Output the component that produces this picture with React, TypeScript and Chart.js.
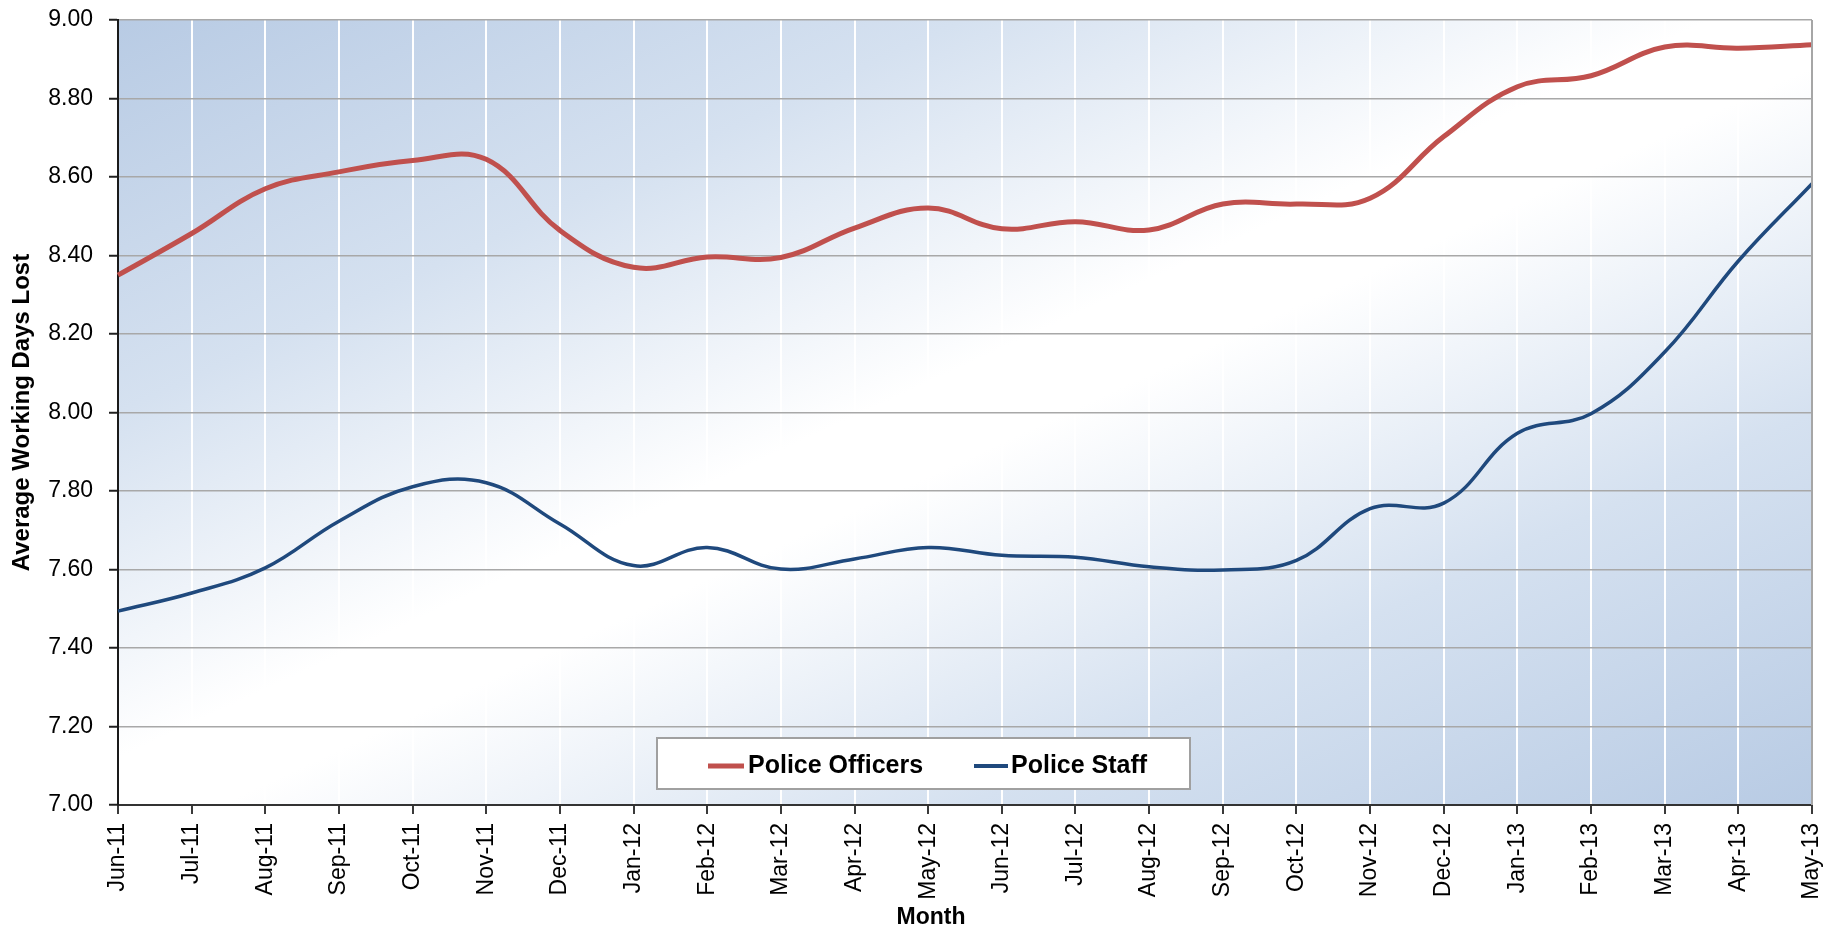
import React, { useEffect, useRef } from 'react';
import { Chart, registerables } from 'chart.js';

Chart.register(...registerables);

const months = [
  'Jun-11', 'Jul-11', 'Aug-11', 'Sep-11', 'Oct-11', 'Nov-11', 'Dec-11',
  'Jan-12', 'Feb-12', 'Mar-12', 'Apr-12', 'May-12', 'Jun-12', 'Jul-12',
  'Aug-12', 'Sep-12', 'Oct-12', 'Nov-12', 'Dec-12', 'Jan-13', 'Feb-13',
  'Mar-13', 'Apr-13', 'May-13',
];

const policeOfficers = [
  8.35, 8.456, 8.57, 8.613, 8.642, 8.645, 8.464, 8.37, 8.396, 8.395, 8.47, 8.521,
  8.468, 8.486, 8.465, 8.531, 8.531, 8.546, 8.703, 8.83, 8.858, 8.931, 8.928, 8.937,
];

const policeStaff = [
  7.494, 7.54, 7.604, 7.723, 7.811, 7.821, 7.716, 7.61, 7.656, 7.601, 7.627, 7.656,
  7.636, 7.631, 7.607, 7.599, 7.623, 7.755, 7.769, 7.947, 7.997, 8.154, 8.386, 8.583,
];

const yMin = 7.0;
const yMax = 9.0;
const yStep = 0.2;

const seriesLabels = ['Police Officers', 'Police Staff'];
const xTitle = 'Month';
const yTitle = 'Average Working Days Lost';

const FONT = "'Liberation Sans', Arial, sans-serif";
const RED = '#c0504d';
const BLUE = '#1f497d';

export default function App() {
  const ref = useRef<HTMLCanvasElement | null>(null);

  useEffect(() => {
    if (!ref.current) return;

    const bgPlugin = {
      id: 'bgGradient',
      beforeDraw(chart: any) {
        const { ctx, chartArea: a } = chart;
        const W = a.right - a.left;
        const H = a.bottom - a.top;
        const cx = (a.left + a.right) / 2;
        const cy = (a.top + a.bottom) / 2;
        const len = Math.hypot(W, H);
        const ux = H / len;
        const uy = W / len;
        const d = (W * H) / len;
        const g = ctx.createLinearGradient(cx - ux * d, cy - uy * d, cx + ux * d, cy + uy * d);
        g.addColorStop(0, '#b8cbe4');
        g.addColorStop(0.25, '#d5e1f0');
        g.addColorStop(0.47, '#ffffff');
        g.addColorStop(0.53, '#ffffff');
        g.addColorStop(0.75, '#d5e1f0');
        g.addColorStop(1, '#b8cbe4');
        ctx.save();
        ctx.fillStyle = g;
        ctx.fillRect(a.left, a.top, W, H);
        ctx.restore();
      },
      afterDraw(chart: any) {
        const { ctx, chartArea: a } = chart;
        ctx.save();
        // right border
        ctx.strokeStyle = '#a6a6a6';
        ctx.lineWidth = 2;
        ctx.beginPath();
        ctx.moveTo(a.right, a.top);
        ctx.lineTo(a.right, a.bottom);
        ctx.stroke();

        // legend box
        const bx = 657, by = 738, bw = 533, bh = 51;
        ctx.fillStyle = '#ffffff';
        ctx.fillRect(bx, by, bw, bh);
        ctx.strokeStyle = '#a0a0a0';
        ctx.lineWidth = 2;
        ctx.strokeRect(bx, by, bw, bh);
        const ly = 766;
        const items = [
          { x0: 708, x1: 744, tx: 748, color: RED, w: 5, text: chart.data.datasets[0].label },
          { x0: 974, x1: 1008, tx: 1011, color: BLUE, w: 4, text: chart.data.datasets[1].label },
        ];
        ctx.font = `bold 25px ${FONT}`;
        ctx.textBaseline = 'middle';
        ctx.textAlign = 'left';
        for (const it of items) {
          ctx.strokeStyle = it.color;
          ctx.lineWidth = it.w;
          ctx.beginPath();
          ctx.moveTo(it.x0, ly);
          ctx.lineTo(it.x1, ly);
          ctx.stroke();
          ctx.fillStyle = '#000000';
          ctx.fillText(it.text, it.tx, ly);
        }

        // x axis title
        ctx.font = `bold 23px ${FONT}`;
        ctx.textAlign = 'center';
        ctx.textBaseline = 'middle';
        ctx.fillStyle = '#000000';
        ctx.fillText(xTitle, 931, 918);
        ctx.restore();
      },
    };

    const chart = new Chart(ref.current, {
      type: 'line',
      data: {
        labels: months,
        datasets: [
          {
            label: seriesLabels[0],
            data: policeOfficers,
            borderColor: RED,
            backgroundColor: RED,
            borderWidth: 5,
            pointRadius: 0,
            tension: 0.4,
            fill: false,
          },
          {
            label: seriesLabels[1],
            data: policeStaff,
            borderColor: BLUE,
            backgroundColor: BLUE,
            borderWidth: 3.5,
            pointRadius: 0,
            tension: 0.4,
            fill: false,
          },
        ],
      },
      options: {
        responsive: false,
        animation: false,
        devicePixelRatio: 1,
        layout: { padding: { top: 20, right: 19, left: 0, bottom: 0 } },
        plugins: {
          legend: { display: false },
          tooltip: { enabled: false },
        },
        scales: {
          x: {
            type: 'category',
            offset: false,
            afterFit(scale: any) {
              scale.height = 127;
              scale.paddingLeft = 0;
              scale.paddingRight = 0;
            },
            grid: {
              color: '#ffffff',
              lineWidth: 2,
              tickColor: '#3a3a3a',
              tickWidth: 2,
              tickLength: 9,
            },
            border: { color: '#333333', width: 2 },
            ticks: {
              autoSkip: false,
              minRotation: 90,
              maxRotation: 90,
              padding: 9,
              color: '#000000',
              font: { family: FONT, size: 23 },
            },
          },
          y: {
            min: yMin,
            max: yMax,
            afterFit(scale: any) {
              scale.width = 118;
              scale.paddingTop = 0;
              scale.paddingBottom = 0;
            },
            grid: {
              color: '#a8a8a8',
              lineWidth: 1.5,
              tickColor: '#202020',
              tickWidth: 2,
              tickLength: 9,
            },
            border: { color: '#1a1a1a', width: 2 },
            ticks: {
              stepSize: yStep,
              padding: 16,
              color: '#000000',
              font: { family: FONT, size: 23 },
              callback: (v: any) => Number(v).toFixed(2),
            },
            title: {
              display: true,
              text: yTitle,
              color: '#000000',
              font: { family: FONT, size: 24, weight: 'bold' },
              padding: { top: 8, bottom: 0 },
            },
          },
        },
      },
      plugins: [bgPlugin],
    });

    return () => chart.destroy();
  }, []);

  return (
    <div style={{ position: 'absolute', left: 0, top: 0, width: 1831, height: 932 }}>
      <canvas ref={ref} width={1831} height={932} />
    </div>
  );
}
